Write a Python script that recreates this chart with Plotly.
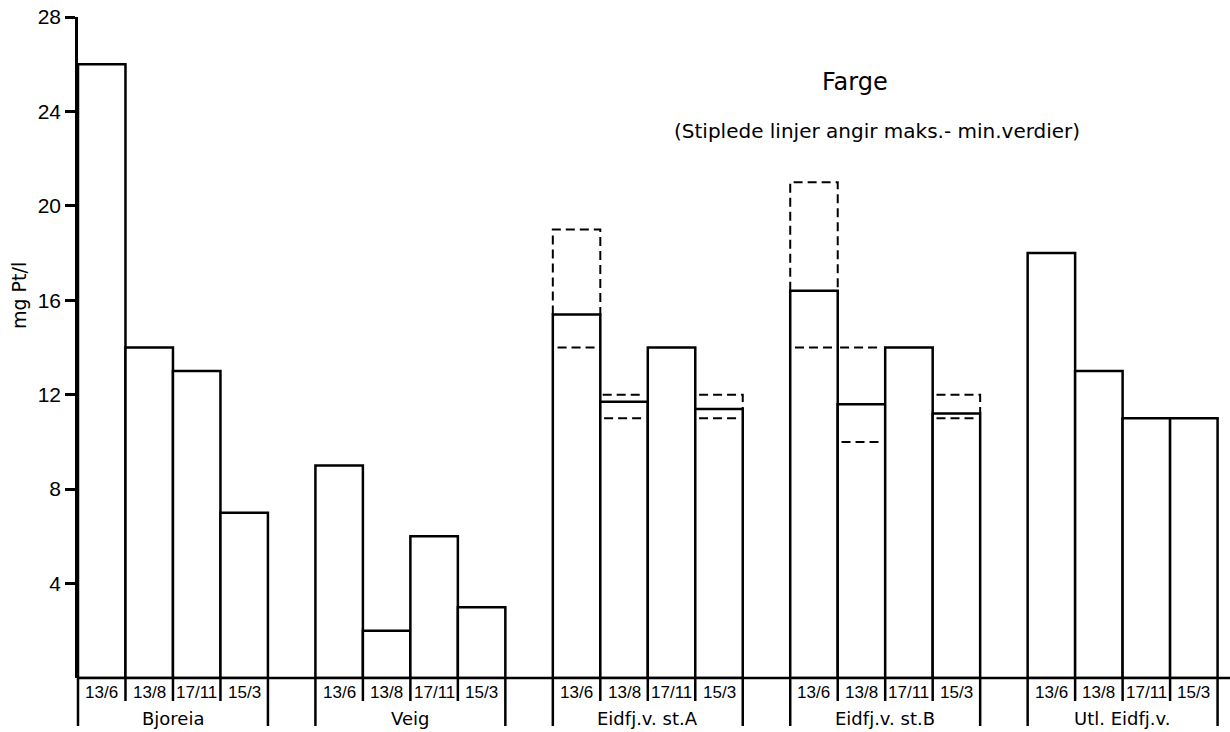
import plotly.graph_objects as go

# ---------------- data ----------------
groups = ["Bjoreia", "Veig", "Eidfj.v. st.A", "Eidfj.v. st.B", "Utl. Eidfj.v."]
dates = ["13/6", "13/8", "17/11", "15/3"]
bjoreia = [26, 14, 13, 7]
veig = [9, 2, 6, 3]
eidfj_a = [15.4, 11.7, 14, 11.4]
eidfj_b = [16.4, 11.6, 14, 11.2]
utl = [18, 13, 11, 11]
yticks = [4, 8, 12, 16, 20, 24, 28]

# max / min values (dashed lines): group index, date index, max, min
range_group = [2, 2, 2, 3, 3, 3]
range_date = [0, 1, 3, 0, 1, 3]
range_max = [19, 12, 12, 21, 14, 12]
range_min = [14, 11, 11, 14, 10, 11]

title_text = "Farge"
subtitle_text = "(Stiplede linjer angir maks.- min.verdier)"
ytitle_text = "mg Pt/l"

# ---------------- geometry helpers ----------------
series = [bjoreia, veig, eidfj_a, eidfj_b, utl]
ND = len(dates)
STEP = ND + 1
NSLOT = len(groups) * STEP - 1
XR = [0, NSLOT + 0.03]
W, H = 1230, 732
ML, MR, MT, MB = 78, 11, 17, 54
PH = H - MT - MB
PW = W - ML - MR
FONT = "DejaVu Sans"
FONT2 = "Liberation Sans"


def slot(g, d):
    return g * STEP + d


def xp(s):
    return (s - XR[0]) / (XR[1] - XR[0])


def yp(px_below):
    return -px_below / PH


xs, ys = [], []
for g, vals in enumerate(series):
    for d, v in enumerate(vals):
        xs.append(slot(g, d) + 0.5)
        ys.append(v)

fig = go.Figure()
fig.add_trace(go.Bar(
    x=xs, y=ys, width=1,
    marker=dict(color="white", line=dict(color="black", width=2.5)),
    hoverinfo="skip",
))

# dashed max/min lines
dx, dy = [], []
for g, d, mx, mn in zip(range_group, range_date, range_max, range_min):
    s = slot(g, d)
    v = series[g][d]
    if d == 0 and mx > v:
        dx += [s, s, s + 1, s + 1, None]
        dy += [v, mx, mx, v, None]
        dx += [s + 0.1, s + 1, None]
        dy += [mn, mn, None]
    elif d == ND - 1:
        dx += [s + 0.08, s + 1, s + 1, None]
        dy += [mx, mx, v, None]
        dx += [s + 0.08, s + 0.92, None]
        dy += [mn, mn, None]
    else:
        dx += [s + 0.05, s + 0.9, None]
        dy += [mx, mx, None]
        dx += [s + 0.08, s + 0.9, None]
        dy += [mn, mn, None]
fig.add_trace(go.Scatter(
    x=dx, y=dy, mode="lines",
    line=dict(color="black", width=2, dash="9px,5px"),
    hoverinfo="skip",
))

shapes = []
annotations = []
# baseline extending to page edge
shapes.append(dict(type="line", xref="paper", yref="paper",
                   x0=xp(0), x1=xp(NSLOT) + (MR + 2) / PW, y0=0, y1=0,
                   line=dict(color="black", width=2.5)))
for g in range(len(groups)):
    s0 = slot(g, 0)
    s1 = slot(g, ND)
    for s in (s0, s1):
        shapes.append(dict(type="line", xref="paper", yref="paper",
                           x0=xp(s), x1=xp(s), y0=0, y1=yp(48),
                           line=dict(color="black", width=2.5)))
    for d in range(1, ND):
        s = slot(g, d)
        shapes.append(dict(type="line", xref="paper", yref="paper",
                           x0=xp(s), x1=xp(s), y0=0, y1=yp(23),
                           line=dict(color="black", width=2.5)))
    for d in range(ND):
        annotations.append(dict(x=xp(slot(g, d) + 0.5), y=yp(14), xref="paper", yref="paper",
                                text=dates[d], showarrow=False, xanchor="center", yanchor="middle",
                                font=dict(family=FONT2, size=17, color="black")))
    annotations.append(dict(x=xp((s0 + s1) / 2), y=yp(40), xref="paper", yref="paper",
                            text=groups[g], showarrow=False, xanchor="center", yanchor="middle",
                            font=dict(family=FONT, size=18, color="black")))

annotations.append(dict(x=(855 - ML) / PW, y=(H - MB - 82) / PH, xref="paper", yref="paper",
                        text=title_text, showarrow=False, xanchor="center", yanchor="middle",
                        font=dict(family=FONT, size=24, color="black")))
annotations.append(dict(x=(877 - ML) / PW, y=(H - MB - 131) / PH, xref="paper", yref="paper",
                        text=subtitle_text, showarrow=False, xanchor="center", yanchor="middle",
                        font=dict(family=FONT, size=20, color="black")))
annotations.append(dict(x=(19 - ML) / PW, y=(H - MB - 296) / PH, xref="paper", yref="paper",
                        text=ytitle_text, showarrow=False, textangle=-90,
                        xanchor="center", yanchor="middle",
                        font=dict(family=FONT, size=19, color="black")))

fig.update_layout(
    width=W, height=H,
    margin=dict(l=ML, r=MR, t=MT, b=MB, autoexpand=False),
    paper_bgcolor="white", plot_bgcolor="white",
    showlegend=False,
    barmode="overlay",
    shapes=shapes,
    annotations=annotations,
    xaxis=dict(range=XR, showgrid=False, zeroline=False, showticklabels=False,
               ticks="", showline=False, fixedrange=True, automargin=False),
    yaxis=dict(range=[0, 28], showgrid=False, zeroline=False, automargin=False,
               tickmode="array", tickvals=yticks, ticktext=[str(t) for t in yticks],
               ticks="outside", ticklen=10, tickwidth=2.5, tickcolor="black",
               ticklabelstandoff=0,
               showline=True, linecolor="black", linewidth=2.5,
               tickfont=dict(family=FONT2, size=21, color="black"), fixedrange=True),
)

fig.write_html("out.html", config={"displayModeBar": False},
               post_script="document.body.style.margin='0';document.body.style.overflow='hidden';")
